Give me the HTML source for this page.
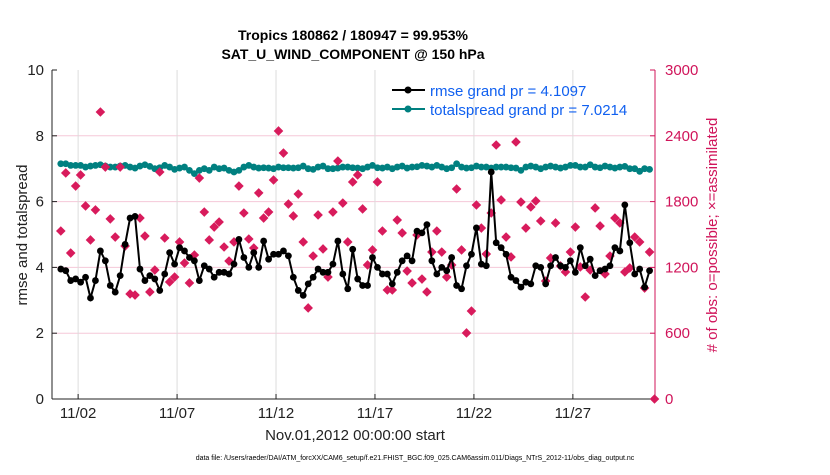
<!DOCTYPE html>
<html><head><meta charset="utf-8">
<style>
body{margin:0;background:#fff;}
svg text{font-family:"Liberation Sans",Arial,sans-serif;}
</style></head>
<body>
<svg id="chart" width="830" height="470" viewBox="0 0 830 470" xmlns="http://www.w3.org/2000/svg">
<rect width="830" height="470" fill="#fff"/>
<text x="353" y="40" text-anchor="middle" font-size="14" font-weight="bold" fill="#000">Tropics 180862 / 180947 = 99.953%</text>
<text x="353" y="59" text-anchor="middle" font-size="14" font-weight="bold" fill="#000">SAT_U_WIND_COMPONENT @ 150 hPa</text>
<g id="grid"></g>
<g id="series"></g>
<g id="axes"></g>
<text transform="translate(27,235) rotate(-90)" text-anchor="middle" font-size="15" fill="#222">rmse and totalspread</text>
<text transform="translate(717,235) rotate(-90)" text-anchor="middle" font-size="15" fill="#d0145a"># of obs: o=possible; ×=assimilated</text>
<text x="355" y="440" text-anchor="middle" font-size="15" fill="#222">Nov.01,2012 00:00:00 start</text>
<text x="415" y="460" text-anchor="middle" font-size="7" fill="#000">data file: /Users/raeder/DAI/ATM_forcXX/CAM6_setup/f.e21.FHIST_BGC.f09_025.CAM6assim.011/Diags_NTrS_2012-11/obs_diag_output.nc</text>
<g>
<line x1="392" y1="90" x2="425" y2="90" stroke="#000" stroke-width="2"/><circle cx="408" cy="90" r="3.5" fill="#000"/>
<text x="430" y="96" font-size="15" fill="#1060f0">rmse grand pr = 4.1097</text>
<line x1="392" y1="109" x2="425" y2="109" stroke="#008080" stroke-width="2"/><circle cx="408" cy="109" r="3.5" fill="#008080"/>
<text x="430" y="115" font-size="15" fill="#1060f0">totalspread grand pr = 7.0214</text>
</g>
</svg>
<script>
const xTickLabels=["11/02","11/07","11/12","11/17","11/22","11/27"];
const xTickDays=[1,6,11,16,21,26];
const yTicksLeft=[0,2,4,6,8,10];
const yTicksRight=[0,600,1200,1800,2400,3000];
const rmse=[3.95,3.9,3.6,3.65,3.55,3.7,3.07,3.6,4.5,4.2,3.45,3.25,3.75,4.7,5.5,5.55,3.95,3.6,3.75,3.65,3.3,3.8,4.45,4.1,4.6,4.5,4.3,4.2,3.6,4.05,
3.95,3.7,3.85,3.85,3.8,4.1,4.85,4.3,4.0,4.45,4.0,4.8,4.25,4.4,4.4,4.5,4.35,3.7,3.3,3.15,3.5,3.7,3.95,3.85,3.85,4.1,4.8,3.8,3.35,4.55,
3.65,3.45,3.45,4.3,4.0,3.8,3.8,3.5,3.85,4.2,4.35,4.2,5.1,5.05,5.3,4.2,3.8,4.0,3.9,4.3,3.45,3.35,4.05,4.4,5.2,4.1,4.05,6.9,4.75,4.6,
4.4,3.7,3.6,3.4,3.55,3.5,4.05,4.0,3.5,4.05,4.3,4.05,4.0,4.2,3.85,4.6,4.05,4.25,3.75,3.9,3.95,4.05,4.6,4.5,5.9,4.75,3.8,3.95,3.4,3.9];
const spread=[7.15,7.15,7.1,7.1,7.1,7.05,7.08,7.1,7.12,7.08,7.05,7.05,7.08,7.1,7.05,7.02,7.08,7.12,7.07,7.0,7.03,7.1,7.05,6.98,7.02,7.05,6.95,6.85,6.95,7.0,
6.95,7.05,7.0,7.02,6.95,6.9,6.95,7.05,7.1,7.05,7.02,7.03,7.02,7.0,7.05,7.03,7.03,7.02,7.03,7.08,7.0,6.98,7.05,7.08,7.0,7.0,7.02,7.05,7.05,7.03,
7.02,7.0,7.05,7.1,7.03,7.02,7.05,7.0,7.05,7.08,7.02,7.05,7.06,7.1,7.08,7.05,7.1,7.05,7.0,7.03,7.15,7.05,7.02,7.03,7.08,7.05,7.05,7.02,7.05,7.05,
7.05,7.03,7.02,6.95,7.05,7.08,7.05,7.0,7.05,7.08,7.05,7.02,7.05,7.1,7.1,7.05,7.05,7.12,7.05,7.03,7.08,7.05,7.02,7.05,7.07,7.0,7.0,6.92,7.0,6.98];
const obsCount=[1532,2061,1331,1942,2043,1760,1450,1724,2617,2115,1642,1477,2115,1395,958,948,1650,1486,976,1176,2070,1468,1067,1112,1432,1240,1058,1313,2015,1705,
1450,1568,1614,1386,1258,1432,1942,1696,1459,1377,1879,1650,1705,1997,2444,2243,1778,1669,1869,1432,830,1304,1678,1368,1112,1705,2170,1787,1432,1979,
2043,1733,1222,1359,1979,1532,994,994,1632,1514,1167,1058,1496,1094,976,1340,1532,1340,1112,1222,1915,1359,602,802,1769,1559,1322,1696,2316,1815,
1477,1295,2344,1796,1559,1751,1806,1623,1076,1286,1605,1213,1158,1340,1568,1204,930,1176,1742,1578,1140,1304,1650,1605,1158,1195,1477,1432,1012,1340,0];

const L=52,R=655,T=70,B=399;
const D0=-0.32,D1=30.15;
const xs=d=>L+(d-D0)/(D1-D0)*(R-L);
const yL=v=>B-v/10*(B-T);
const yR=c=>B-c/3000*(B-T);
const tDay=i=>0.125+i*0.25;
const NS="http://www.w3.org/2000/svg";
function mk(tag,attrs,parent){const e=document.createElementNS(NS,tag);for(const k in attrs)e.setAttribute(k,attrs[k]);parent.appendChild(e);return e;}
const grid=document.getElementById('grid'),ser=document.getElementById('series'),ax=document.getElementById('axes');

yTicksLeft.forEach(v=>{if(v>0&&v<10){const g=mk('line',{x1:L,x2:R,y1:yL(v),y2:yL(v),stroke:'#f5c8d8','stroke-width':1},grid);

}});
xTickDays.forEach(d=>{const g=mk('line',{x1:xs(d),x2:xs(d),y1:T,y2:B,stroke:'#dcdcdc','stroke-width':1},grid);

});

// spread
let sp=spread.map((v,i)=>xs(tDay(i))+','+yL(v)).join(' ');
const sl=mk('polyline',{points:sp,fill:'none',stroke:'#008080','stroke-width':2},ser);


spread.forEach((v,i)=>{const c=mk('circle',{cx:xs(tDay(i)),cy:yL(v),r:3.4,fill:'#008080'},ser);

});
// obs
obsCount.forEach((c,i)=>{const x=xs(tDay(i)),y=yR(c);
const p=mk('polygon',{points:`${x},${y-4.8} ${x+4.8},${y} ${x},${y+4.8} ${x-4.8},${y}`,fill:'#d81b5c'},ser);

});
// rmse
let rp=rmse.map((v,i)=>xs(tDay(i))+','+yL(v)).join(' ');
const rl=mk('polyline',{points:rp,fill:'none',stroke:'#000','stroke-width':2},ser);


rmse.forEach((v,i)=>{const c=mk('circle',{cx:xs(tDay(i)),cy:yL(v),r:3.4,fill:'#000'},ser);

});

// axes
const a1=mk('line',{x1:L,x2:L,y1:T,y2:B,stroke:'#222','stroke-width':1},ax);


const a2=mk('line',{x1:L,x2:R,y1:B,y2:B,stroke:'#222','stroke-width':1},ax);


const a3=mk('line',{x1:R,x2:R,y1:T,y2:B,stroke:'#d0145a','stroke-width':1},ax);


yTicksLeft.forEach(v=>{mk('line',{x1:L,x2:L+5,y1:yL(v),y2:yL(v),stroke:'#222'},ax);
const t=mk('text',{x:L-8,y:yL(v)+5,'text-anchor':'end','font-size':15,fill:'#222'},ax);t.textContent=v;

});
yTicksRight.forEach(v=>{mk('line',{x1:R-5,x2:R,y1:yR(v),y2:yR(v),stroke:'#d0145a'},ax);
const t=mk('text',{x:R+10,y:yR(v)+5,'text-anchor':'start','font-size':15,fill:'#d0145a'},ax);t.textContent=v;

});
xTickDays.forEach((d,i)=>{mk('line',{x1:xs(d),x2:xs(d),y1:B-5,y2:B,stroke:'#222'},ax);
const t=mk('text',{x:xs(d),y:B+19,'text-anchor':'middle','font-size':15,fill:'#222'},ax);t.textContent=xTickLabels[i];

});
</script>
</body></html>
